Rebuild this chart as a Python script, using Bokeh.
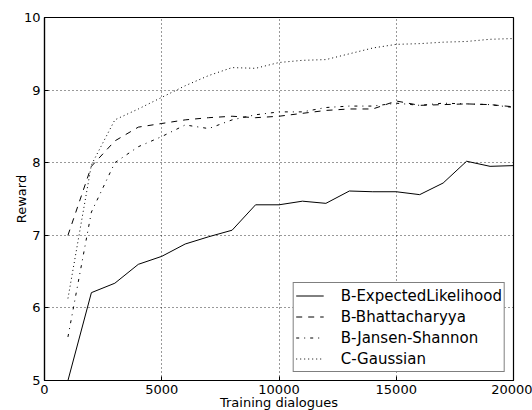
from bokeh.plotting import figure
from bokeh.models import Range1d, FixedTicker, Legend, LegendItem
from bokeh.embed import file_html
from bokeh.resources import INLINE

# Training set sizes (number of dialogues)
dialogues = [1000, 2000, 3000, 4000, 5000, 6000, 7000, 8000, 9000, 10000,
             11000, 12000, 13000, 14000, 15000, 16000, 17000, 18000, 19000, 20000]

# Average reward for each method
expected_likelihood = [5.00, 6.21, 6.34, 6.60, 6.71, 6.88, 6.98, 7.07, 7.42, 7.42,
                       7.47, 7.44, 7.61, 7.60, 7.60, 7.56, 7.72, 8.02, 7.95, 7.96]
bhattacharyya = [7.00, 7.95, 8.30, 8.49, 8.54, 8.59, 8.62, 8.64, 8.62, 8.64,
                 8.68, 8.72, 8.74, 8.74, 8.85, 8.79, 8.80, 8.81, 8.80, 8.77]
jansen_shannon = [5.60, 7.32, 8.00, 8.22, 8.36, 8.52, 8.47, 8.59, 8.66, 8.70,
                  8.70, 8.76, 8.78, 8.78, 8.82, 8.79, 8.82, 8.81, 8.80, 8.76]
c_gaussian = [6.13, 7.97, 8.59, 8.74, 8.90, 9.06, 9.20, 9.31, 9.30, 9.38,
              9.41, 9.42, 9.50, 9.58, 9.63, 9.64, 9.66, 9.67, 9.70, 9.71]

x_ticks = [0, 5000, 10000, 15000, 20000]
y_ticks = [5, 6, 7, 8, 9, 10]

FONT = "DejaVu Sans"

p = figure(frame_width=469, frame_height=363,
           min_border_left=44, min_border_right=19, min_border_top=17, min_border_bottom=26,
           x_range=Range1d(0, 20000), y_range=Range1d(5, 10),
           output_backend="svg", toolbar_location=None)

p.background_fill_color = "white"
p.border_fill_color = "white"
p.outline_line_color = "black"
p.outline_line_width = 1.2

for ax, ticks in ((p.xaxis, x_ticks), (p.yaxis, y_ticks)):
    ax.ticker = FixedTicker(ticks=ticks)
    ax.minor_tick_line_color = None
    ax.major_tick_in = 4
    ax.major_tick_out = 0
    ax.major_tick_line_color = "black"
    ax.axis_line_color = "black"
    ax.axis_line_width = 1.2
    ax.major_label_text_font = FONT
    ax.major_label_text_font_size = "13px"
    ax.major_label_text_color = "black"
    ax.axis_label_text_font = FONT
    ax.axis_label_text_font_size = "13px"
    ax.axis_label_text_font_style = "normal"
    ax.axis_label_text_color = "black"

p.xaxis.axis_label = "Training dialogues"
p.yaxis.axis_label = "Reward"
p.xaxis.major_label_standoff = 4
p.yaxis.major_label_standoff = 4
p.xaxis.axis_label_standoff = -2
p.yaxis.axis_label_standoff = -8

for g in (p.xgrid, p.ygrid):
    g.grid_line_color = "black"
    g.grid_line_alpha = 0.8
    g.grid_line_width = 1
    g.grid_line_dash = "1 3"

r1 = p.line(dialogues, expected_likelihood, line_color="black", line_width=1)
r2 = p.line(dialogues, bhattacharyya, line_color="black", line_width=1, line_dash="6 6")
r3 = p.line(dialogues, jansen_shannon, line_color="black", line_width=1, line_dash="3 5 1 5")
r4 = p.line(dialogues, c_gaussian, line_color="black", line_width=1, line_dash="1 3")

legend = Legend(items=[
    LegendItem(label="B-ExpectedLikelihood", renderers=[r1]),
    LegendItem(label="B-Bhattacharyya", renderers=[r2]),
    LegendItem(label="B-Jansen-Shannon", renderers=[r3]),
    LegendItem(label="C-Gaussian", renderers=[r4]),
], location="bottom_right")
legend.margin = 8
legend.padding = 2
legend.spacing = 0
legend.glyph_width = 28
legend.glyph_height = 21
legend.label_height = 21
legend.label_standoff = 17
legend.label_text_font = FONT
legend.label_text_font_size = "15px"
legend.label_text_color = "black"
legend.border_line_color = "black"
legend.border_line_width = 1
legend.background_fill_color = "white"
legend.background_fill_alpha = 1
p.add_layout(legend, "center")

open("out.html", "w").write(file_html(p, INLINE))
